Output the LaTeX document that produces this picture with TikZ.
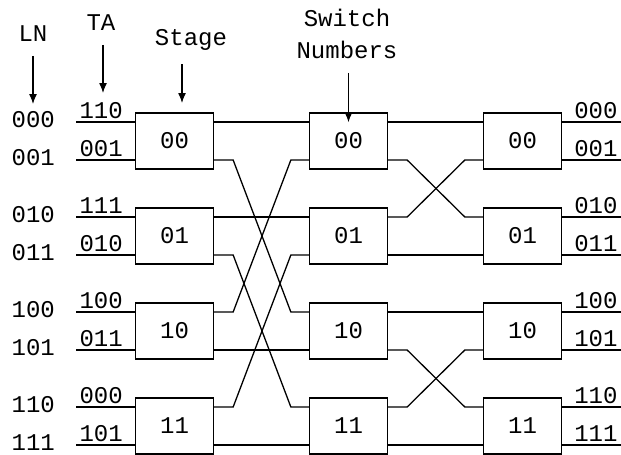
\documentclass[tikz,border=0pt]{standalone}
\usepackage{fontspec}
\setmonofont{Liberation Mono}
\usetikzlibrary{arrows.meta, positioning}

\begin{document}
\begin{tikzpicture}[
        x = 1pt, y = -1pt,
        line width = 1.3pt,
        >= {Latex[length = 10pt, width = 8pt]},
        every node/.style = {font = \ttfamily\fontsize{24}{32}\selectfont},
        switchbox/.style = {draw, minimum width = 78pt, minimum height = 56pt, inner sep = 0pt},
        wirelabel/.style = {inner sep = 3pt},
        headarrow/.style = {->, shorten <= 10pt}
    ]
    \useasboundingbox (0,0) rectangle (621,455);

    % three stages of switches, with their ports
    \foreach \n [count = \i from 0] in {00, 01, 10, 11} {
        \node[switchbox] (a\n) at (174.5, 141 + 95*\i) {\n};
        \node[switchbox] (b\n) at (348.5, 141 + 95*\i) {\n};
        \node[switchbox] (c\n) at (522.5, 141 + 95*\i) {\n};
        \foreach \st in {a, b, c} {
            \coordinate (\st\n iu) at ([yshift = 19pt]\st\n.west);
            \coordinate (\st\n il) at ([yshift = -19pt]\st\n.west);
            \coordinate (\st\n ou) at ([yshift = 19pt]\st\n.east);
            \coordinate (\st\n ol) at ([yshift = -19pt]\st\n.east);
        }
    }

    % inputs
    \foreach \lnum/\tnum/\sw in {000/110/00iu, 001/001/00il, 010/111/01iu, 011/010/01il,
                                100/100/10iu, 101/011/10il, 110/000/11iu, 111/101/11il} {
        \draw (a\sw) -- ++(-59, 0) coordinate (in\lnum);
        \node[left = 17pt of in\lnum, yshift = 2pt] (ln\lnum) {\lnum};
        \node[wirelabel, above right = 0pt and 0pt of in\lnum] (ta\lnum) {\tnum};
    }

    % outputs
    \foreach \lnum/\sw in {000/00ou, 001/00ol, 010/01ou, 011/01ol,
                           100/10ou, 101/10ol, 110/11ou, 111/11ol} {
        \draw (c\sw) -- ++(59, 0) coordinate (out\lnum);
        \node[wirelabel, above left = 0pt and 0pt of out\lnum] (res\lnum) {\lnum};
    }

    % links between stages
    \foreach \from/\to in {a00ou/b00iu, a01ou/b01iu, a10ol/b10il, a11ol/b11il,
                           a00ol/b10iu, a01ol/b11iu, a10ou/b00il, a11ou/b01il,
                           b00ou/c00iu, b01ol/c01il, b10ou/c10iu, b11ol/c11il,
                           b00ol/c01iu, b01ou/c00il, b10ol/c11iu, b11ou/c10il}
        \draw (\from) -- ++(19, 0) -- ([xshift = -18pt]\to) -- (\to);

    % headings
    \node (lnhead) at (33, 34) {LN};
    \node (tahead) at (101, 23) {TA};
    \node (stagehead) at (191, 40) {Stage};
    \node[align = center] (swhead) at (347, 34) {Switch\\Numbers};

    \coordinate (lntip) at (33, 104);
    \coordinate (tatip) at (103, 93);
    \coordinate (stagetip) at (182, 103);
    \coordinate (swtip) at ([yshift = -10pt]b00.north);

    \draw[headarrow] (lnhead.south -| lntip) -- (lntip);
    \draw[headarrow] (tahead.south -| tatip) -- (tatip);
    \draw[headarrow] (stagehead.south -| stagetip) -- (stagetip);
    \draw[headarrow] (swhead.south -| swtip) -- (swtip);
\end{tikzpicture}
\end{document}
